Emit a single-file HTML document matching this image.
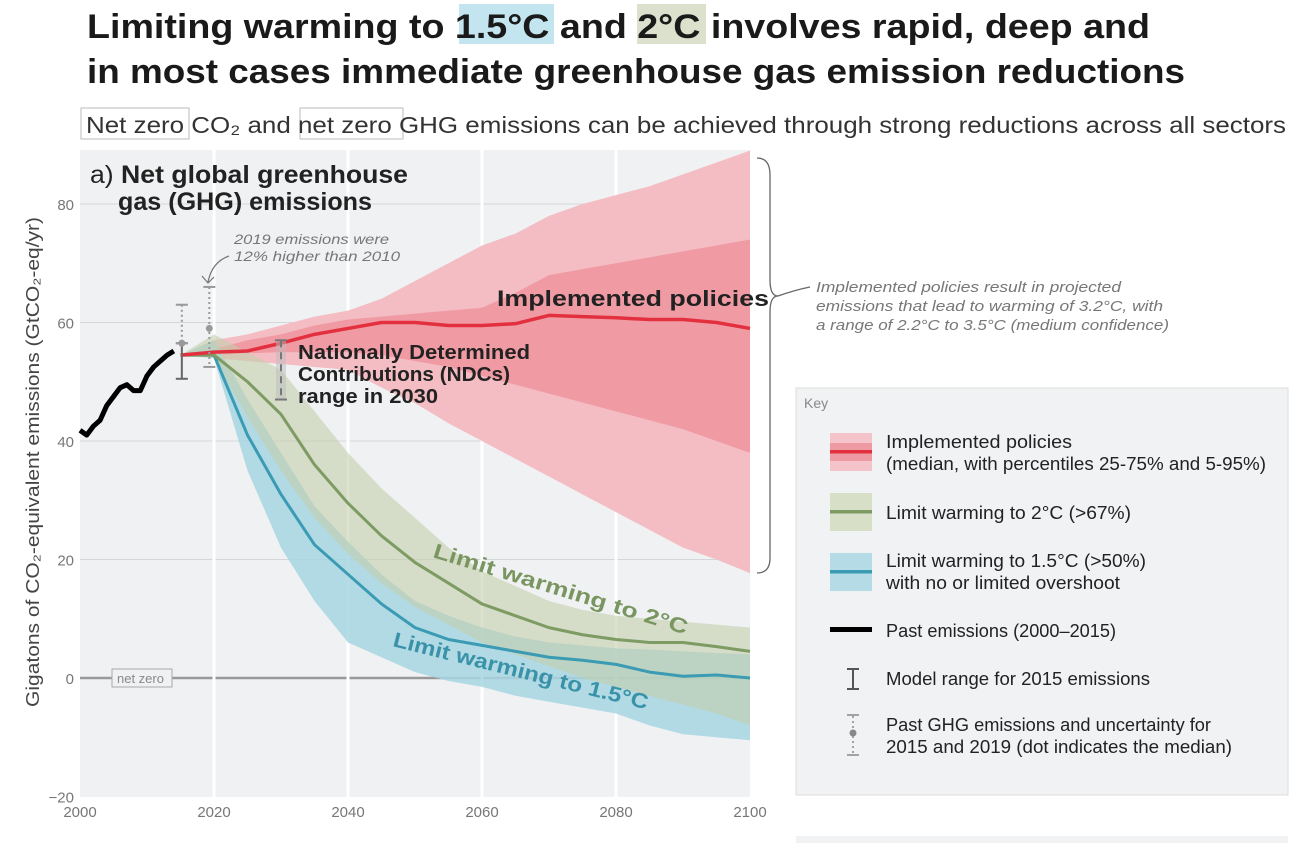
<!DOCTYPE html>
<html><head><meta charset="utf-8"><style>
html,body{margin:0;padding:0;background:#fff;}
svg{display:block;font-family:"Liberation Sans",sans-serif;}
</style></head><body>
<svg id="chart" width="1312" height="843" viewBox="0 0 1312 843">
  <g>
    <rect x="459" y="4" width="95" height="40" fill="#c3e5ef"/>
    <rect x="637" y="4" width="69" height="40" fill="#dbe1cc"/>
    <text x="87" y="38" font-size="34" font-weight="bold" fill="#1a1a1a" textLength="1063" lengthAdjust="spacingAndGlyphs">Limiting warming to 1.5°C and 2°C involves rapid, deep and</text>
    <text x="87" y="83" font-size="34" font-weight="bold" fill="#1a1a1a" textLength="1098" lengthAdjust="spacingAndGlyphs">in most cases immediate greenhouse gas emission reductions</text>
  </g>
  <g>
    <rect x="81" y="108" width="108" height="31" fill="none" stroke="#bbb"/>
    <rect x="300" y="108" width="103" height="31" fill="none" stroke="#bbb"/>
    <text x="86" y="133" font-size="23" fill="#333" textLength="1200" lengthAdjust="spacingAndGlyphs">Net zero  CO₂ and net zero GHG emissions can be achieved through strong reductions across all sectors</text>
  </g>
  <rect x="80" y="150" width="670" height="647" fill="#eff1f3"/>
  <g id="grid"></g>
  <g id="bands"></g>
  <g id="lines"></g>
  <g id="bars"></g>
  <g>
    <text x="90" y="183" font-size="25" fill="#222" textLength="318" lengthAdjust="spacingAndGlyphs"><tspan>a) </tspan><tspan font-weight="bold">Net global greenhouse</tspan></text>
    <text x="118" y="210" font-size="25" font-weight="bold" fill="#222" textLength="254" lengthAdjust="spacingAndGlyphs">gas (GHG) emissions</text>
  </g>
  <g font-style="italic" fill="#777" font-size="14">
    <text x="234" y="244" textLength="155" lengthAdjust="spacingAndGlyphs">2019 emissions were</text>
    <text x="234" y="261" textLength="166" lengthAdjust="spacingAndGlyphs">12% higher than 2010</text>
    <path d="M229 256 Q212 262 208 282 M202 276 L208 283 L214 277" fill="none" stroke="#777" stroke-width="1.2"/>
  </g>
  <text x="497" y="306" font-size="22" font-weight="bold" fill="#222" textLength="272" lengthAdjust="spacingAndGlyphs">Implemented policies</text>
  <g font-size="20" font-weight="bold" fill="#222">
    <text x="298" y="359" textLength="232" lengthAdjust="spacingAndGlyphs">Nationally Determined</text>
    <text x="298" y="381" textLength="212" lengthAdjust="spacingAndGlyphs">Contributions (NDCs)</text>
    <text x="298" y="403" textLength="140" lengthAdjust="spacingAndGlyphs">range in 2030</text>
  </g>
  <text transform="translate(432,557) rotate(17)" font-size="21" font-weight="bold" fill="#7a9660" textLength="265" lengthAdjust="spacingAndGlyphs">Limit warming to 2°C</text>
  <text transform="translate(392,646) rotate(14)" font-size="21" font-weight="bold" fill="#3a92a8" textLength="262" lengthAdjust="spacingAndGlyphs">Limit warming to 1.5°C</text>
  <g>
    <rect x="112" y="669" width="60" height="18" fill="#eff1f3" stroke="#aaa"/>
    <text x="117" y="683" font-size="13" fill="#888">net zero</text>
  </g>
  <text transform="translate(39,462) rotate(-90)" text-anchor="middle" font-size="18" fill="#444" textLength="490" lengthAdjust="spacingAndGlyphs">Gigatons of CO₂-equivalent emissions (GtCO₂-eq/yr)</text>
  <g id="ticks"></g>
  <path d="M757 158 Q770 158 770 175 L770 280 Q770 296 778 296 Q770 296 770 312 L770 558 Q770 573 757 573" fill="none" stroke="#666" stroke-width="1.3"/>
  <path d="M778 296 Q795 290 810 287" fill="none" stroke="#666" stroke-width="1.3"/>
  <g font-style="italic" fill="#777" font-size="15">
    <text x="816" y="292" textLength="305" lengthAdjust="spacingAndGlyphs">Implemented policies result in projected</text>
    <text x="816" y="311" textLength="347" lengthAdjust="spacingAndGlyphs">emissions that lead to warming of 3.2°C, with</text>
    <text x="816" y="330" textLength="353" lengthAdjust="spacingAndGlyphs">a range of 2.2°C to 3.5°C (medium confidence)</text>
  </g>
  <g>
    <rect x="796" y="388" width="492" height="407" fill="#f1f2f4" stroke="#ddd"/>
    <text x="804" y="408" font-size="14" fill="#888">Key</text>
    <g font-size="18.5" fill="#222">
      <rect x="830" y="433" width="42" height="38" fill="#f4c4ca"/>
      <rect x="830" y="443" width="42" height="18" fill="#ee9aa3"/>
      <rect x="830" y="450" width="42" height="3.5" fill="#e3303f"/>
      <text x="886" y="448" textLength="186" lengthAdjust="spacingAndGlyphs">Implemented policies</text>
      <text x="886" y="470" textLength="380" lengthAdjust="spacingAndGlyphs">(median, with percentiles 25-75% and 5-95%)</text>
    </g>
    <g font-size="18.5" fill="#222">
      <rect x="830" y="493" width="42" height="38" fill="#d7dfc7"/>
      <rect x="830" y="510" width="42" height="3.5" fill="#7d9b62"/>
      <text x="886" y="519" textLength="245" lengthAdjust="spacingAndGlyphs">Limit warming to 2°C (&gt;67%)</text>
    </g>
    <g font-size="18.5" fill="#222">
      <rect x="830" y="553" width="42" height="38" fill="#b5dce6"/>
      <rect x="830" y="570" width="42" height="3.5" fill="#3a9bb3"/>
      <text x="886" y="567" textLength="260" lengthAdjust="spacingAndGlyphs">Limit warming to 1.5°C (&gt;50%)</text>
      <text x="886" y="589" textLength="234" lengthAdjust="spacingAndGlyphs">with no or limited overshoot</text>
    </g>
    <g>
      <rect x="830" y="627" width="42" height="5" fill="#000"/>
      <text x="886" y="637" font-size="18.5" fill="#222" textLength="230" lengthAdjust="spacingAndGlyphs">Past emissions (2000–2015)</text>
    </g>
    <g stroke="#555" stroke-width="2">
      <path d="M847 669 H859 M853 669 V689 M847 689 H859"/>
      <text x="886" y="685" font-size="18.5" fill="#222" stroke="none" textLength="264" lengthAdjust="spacingAndGlyphs">Model range for 2015 emissions</text>
    </g>
    <g>
      <path d="M847 715 H859 M847 755 H859" stroke="#888" stroke-width="1.5"/>
      <path d="M853 716 V754" stroke="#888" stroke-width="1.5" stroke-dasharray="2,3"/>
      <circle cx="853" cy="733" r="3.5" fill="#888"/>
      <text x="886" y="731" font-size="18.5" fill="#222" textLength="325" lengthAdjust="spacingAndGlyphs">Past GHG emissions and uncertainty for</text>
      <text x="886" y="753" font-size="18.5" fill="#222" textLength="346" lengthAdjust="spacingAndGlyphs">2015 and 2019 (dot indicates the median)</text>
    </g>
  </g>
  <rect x="796" y="836" width="492" height="7" fill="#f1f2f4"/>
</svg>
<script>
const years = [2020,2025,2030,2035,2040,2045,2050,2055,2060,2065,2070,2075,2080,2085,2090,2095,2100];
const polMedian = [55,55.2,56.5,58,59,60,60,59.5,59.5,59.8,61.2,61,60.8,60.5,60.5,60,59];
const pol95 = [57,58,59.5,61,62,64,67,70,73,75,78,80,81.5,83,85,87,89];
const pol5 = [54,53.5,53,52.5,52,49,46.4,43,40,37,34,31,28,25,22,20,17.7];
const pol75 = [55.5,57,58,59.5,60.5,61,61.5,62,62.5,65,68,69,70,71,72,73,74];
const pol25 = [54.5,54.8,55,55,55,54.5,53.5,52.5,51,49.5,48,46.5,45,43.5,42,40,38];
const c2Median = [54.5,50,44.5,36,29.5,24,19.5,16,12.5,10.5,8.5,7.3,6.5,6,6,5.3,4.5];
const c2High = [58,55,52,45,38,32,27,22,18,15.5,13,11.5,10.5,10,9.5,9,8.5];
const c2Low = [54,44,35,27,21,16,12,9,6,4,2,0,-1.5,-3,-4.5,-6,-8];
const c15Median = [54.5,41,31,22.5,17.5,12.5,8.5,6.5,5.5,4.5,3.5,3,2.3,1,0.3,0.5,0];
const c15High = [57,47,38,29,23,17.5,13,10.5,8.5,7,6,5.5,5,4.8,4.5,4.2,4];
const c15Low = [54,35,22,13,6,3.5,1,-0.5,-1.5,-3,-4,-5,-6,-8,-9.5,-10,-10.5];
const pastYears = [2000,2001,2002,2003,2004,2005,2006,2007,2008,2009,2010,2011,2012,2013,2014];
const pastValues = [41.8,41,42.5,43.5,46,47.5,49,49.5,48.5,48.5,51,52.5,53.5,54.5,55.2];
const xTicks = [2000,2020,2040,2060,2080,2100];
const yTicks = [-20,0,20,40,60,80];

const NS='http://www.w3.org/2000/svg';
function X(yr){return 80+(yr-2000)*6.7;}
function Y(v){return 678-v*5.925;}
function el(tag,attrs,parent){const e=document.createElementNS(NS,tag);for(const k in attrs)e.setAttribute(k,attrs[k]);parent.appendChild(e);return e;}
const grid=document.getElementById('grid'),bands=document.getElementById('bands'),lines=document.getElementById('lines'),bars=document.getElementById('bars'),ticks=document.getElementById('ticks');

yTicks.forEach(v=>{
  if(v===-20) return;
  const l=el('line',{x1:80,x2:750,y1:Y(v),y2:Y(v),stroke:v===0?'#999':'#d4d6d9','stroke-width':v===0?2.5:1},grid);
  
  
});
xTicks.forEach(t=>{
  if(t===2000||t===2100) return;
  const l=el('line',{x1:X(t),x2:X(t),y1:150,y2:797,stroke:'#fff','stroke-width':3},grid);
  
  
});

function band(hi,lo,fill,op,name,startX,startY){
  let d='M'+startX+' '+startY;
  years.forEach((y,i)=>{d+=' L'+X(y)+' '+Y(hi[i]);});
  for(let i=years.length-1;i>=0;i--) d+=' L'+X(years[i])+' '+Y(lo[i]);
  d+=' Z';
  const p=el('path',{d:d,fill:fill,'fill-opacity':op},bands);
  
  
}
const sx=X(2015), sy=Y(54.5);
band(pol95,pol5,'#f4bcc3',1,'band-policies-5-95',sx,sy);
band(pol75,pol25,'#ee959f',0.85,'band-policies-25-75',sx,sy);
band(c15High,c15Low,'#a6d6e2',0.85,'band-1-5c',sx,sy);
band(c2High,c2Low,'#c3cfab',0.6,'band-2c',sx,sy);

function line(xs,vs,color,w,name){
  const p=el('polyline',{points:xs.map((y,i)=>X(y)+','+Y(vs[i])).join(' '),fill:'none',stroke:color,'stroke-width':w,'stroke-linejoin':'round'},lines);
  
  
}
line([2015].concat(years),[54.5].concat(c15Median),'#3a9bb3',3,'line-1-5c-median');
line([2015].concat(years),[54.5].concat(c2Median),'#7d9b62',3,'line-2c-median');
line([2015].concat(years),[54.5].concat(polMedian),'#e3303f',3.5,'line-policies-median');
line(pastYears,pastValues,'#000',5,'line-past-emissions');

function ibar(yr,lo,hi,color,dash,name,dot){
  const g=el('g',{},bars);
  
  
  const x=X(yr);
  el('line',{x1:x,x2:x,y1:Y(hi),y2:Y(lo),stroke:color,'stroke-width':2,'stroke-dasharray':dash},g);
  el('line',{x1:x-6,x2:x+6,y1:Y(hi),y2:Y(hi),stroke:color,'stroke-width':2},g);
  el('line',{x1:x-6,x2:x+6,y1:Y(lo),y2:Y(lo),stroke:color,'stroke-width':2},g);
  if(dot!==undefined) el('circle',{cx:x,cy:Y(dot),r:3.5,fill:color},g);
}
ibar(2015.2,50.5,56.5,'#666','none','model-range-2015');
ibar(2015.2,56.5,63,'#999','2,3','past-ghg-2015',56.5);
ibar(2019.3,52.5,66,'#999','2,3','past-ghg-2019',59);
const ndcBg=el('rect',{x:X(2030)-5,y:Y(57),width:10,height:Y(47)-Y(57),fill:'#bbb','fill-opacity':0.5},bars);


ibar(2030,47,57,'#777','7,5','ndc-range-2030');

yTicks.forEach(v=>{
  const t=el('text',{x:74,y:Y(v)+6,'text-anchor':'end','font-size':15,fill:'#777'},ticks);
  t.textContent=v<0?'−'+Math.abs(v):v;
  
  
});
xTicks.forEach(v=>{
  const t=el('text',{x:X(v),y:817,'text-anchor':'middle','font-size':15,fill:'#777'},ticks);
  t.textContent=v;
  
  
});
</script>
</body></html>
